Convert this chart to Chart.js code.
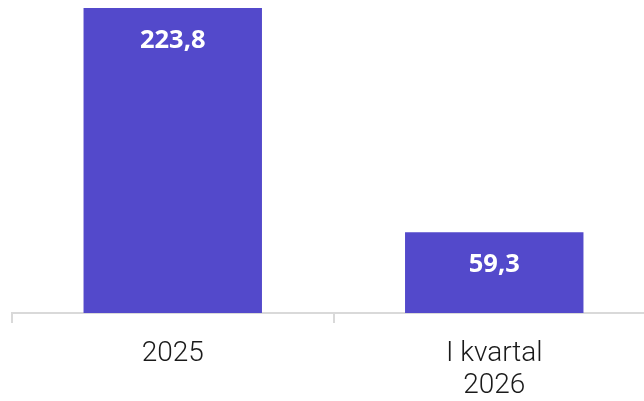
<!DOCTYPE html>
<html>
<head>
<meta charset="utf-8">
<script src="https://cdn.jsdelivr.net/npm/chart.js@4"></script>
<style>
html, body { margin: 0; padding: 0; background: #fff; overflow: hidden; }
#wrap { width: 655px; height: 401px; }
</style>
</head>
<body>
<div id="wrap"><canvas id="chart"></canvas></div>
<script>
const categories = ['2025', ['I kvartal', '2026']]
const values = [223.8, 59.3]
const barColor = '#5349cb'

// draw value labels inside top of each bar
const valueLabels = {
  id: 'valueLabels',
  afterDatasetsDraw(chart) {
    const ctx = chart.ctx
    const meta = chart.getDatasetMeta(0)
    ctx.save()
    ctx.fillStyle = '#ffffff'
    ctx.font = 'bold 25.5px "Open Sans"'
    ctx.textAlign = 'center'
    ctx.textBaseline = 'middle'
    meta.data.forEach((bar, idx) => {
      const txt = values[idx].toFixed(1).replace('.', ',')
      ctx.fillText(txt, bar.x, bar.y + 33)
    })
    ctx.restore()
  }
}

new Chart(document.getElementById('chart'), {
  type: 'bar',
  data: {
    labels: categories,
    datasets: [{
      data: values,
      backgroundColor: barColor,
      barPercentage: 0.555,
      categoryPercentage: 1
    }]
  },
  options: {
    responsive: true,
    maintainAspectRatio: false,
    animation: false,
    layout: { padding: { left: 12, top: 8, right: 0, bottom: -16 } },
    plugins: { legend: { display: false }, tooltip: { enabled: false } },
    scales: {
      y: { display: false, min: 0, max: 223.8 },
      x: {
        border: { color: '#d9d9d9', width: 2 },
        grid: { drawOnChartArea: false, drawTicks: true, tickLength: 10, color: '#d9d9d9', lineWidth: 2 },
        ticks: {
          color: '#1a1a1a',
          padding: 15,
          maxRotation: 0,
          font: { family: 'Roboto', weight: 300, size: 28, lineHeight: '32px' }
        }
      }
    }
  },
  plugins: [valueLabels]
})
</script>
</body>
</html>
